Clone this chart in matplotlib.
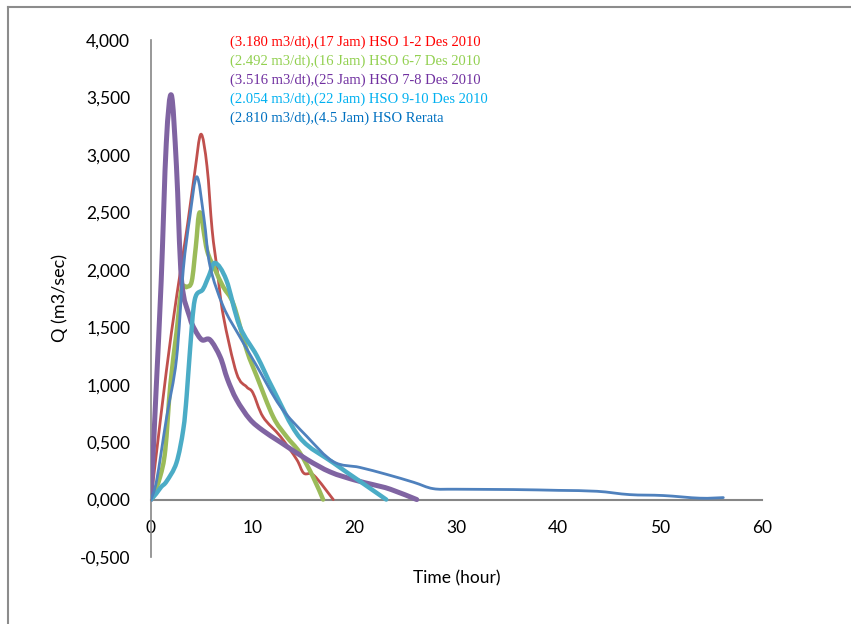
import numpy as np
import matplotlib
matplotlib.use("Agg")
import matplotlib.pyplot as plt
from matplotlib.path import Path
from matplotlib.patches import PathPatch
from matplotlib.lines import Line2D

# ---- data ----
red_x = [0, 1.0, 2.0, 3.0, 3.6, 4.3, 4.9, 5.5, 6.0, 6.5, 7.1, 8.4, 9.4, 10.0, 11.0, 12.7, 14.3, 15.0, 16.0, 17.9]
red_y = [0, 0.75, 1.45, 2.05, 2.40, 2.85, 3.18, 2.90, 2.35, 2.00, 1.60, 1.10, 0.98, 0.93, 0.72, 0.55, 0.35, 0.23, 0.21, 0]

green_x = [0, 0.2, 0.9, 1.4, 1.9, 2.5, 3.0, 3.5, 4.0, 4.4, 4.8, 5.5, 6.3, 7.1, 8.1, 9.4, 10.4, 12.0, 13.3, 14.6, 15.9, 16.9]
green_y = [0, 0.03, 0.20, 0.43, 1.00, 1.45, 1.83, 1.85, 1.90, 2.20, 2.50, 2.17, 2.00, 1.85, 1.70, 1.30, 1.07, 0.72, 0.55, 0.41, 0.20, 0]

purple_x = [0, 0.5, 1.0, 1.5, 2.0, 2.5, 3.0, 3.8, 4.3, 5.0, 5.8, 6.8, 7.5, 8.4, 9.7, 11.0, 12.7, 15.3, 17.6, 20.0, 21.8, 23.5, 26.1]
purple_y = [0, 0.95, 1.90, 3.10, 3.52, 2.90, 1.91, 1.59, 1.48, 1.39, 1.39, 1.24, 1.05, 0.87, 0.70, 0.60, 0.50, 0.35, 0.24, 0.17, 0.13, 0.09, 0]

cyan_x = [0, 0.5, 1.0, 1.54, 2.5, 3.17, 3.5, 3.83, 4.3, 5.1, 5.7, 6.3, 7.4, 8.7, 10.4, 12.0, 14.6, 17.9, 20.5, 23.1]
cyan_y = [0, 0.05, 0.11, 0.16, 0.32, 0.61, 0.90, 1.30, 1.74, 1.83, 1.95, 2.06, 1.91, 1.51, 1.25, 0.96, 0.54, 0.32, 0.16, 0]

blue_x = [0, 0.56, 1.54, 2.5, 3.17, 3.8, 4.5, 5.2, 5.8, 7.1, 8.7, 10.4, 12.7, 15.3, 17.9, 20.5, 23.1, 25.8, 27.7, 30.0, 35.6, 40.0, 43.8, 47.0, 50.3, 53.9, 56.2]
blue_y = [0, 0.17, 0.72, 1.22, 2.00, 2.45, 2.81, 2.45, 2.03, 1.68, 1.42, 1.16, 0.81, 0.55, 0.33, 0.28, 0.22, 0.15, 0.095, 0.09, 0.087, 0.08, 0.072, 0.043, 0.035, 0.012, 0.017]

legend_labels = [
    "(3.180 m3/dt),(17 Jam) HSO 1-2 Des 2010",
    "(2.492 m3/dt),(16 Jam) HSO 6-7 Des 2010",
    "(3.516 m3/dt),(25 Jam) HSO 7-8 Des 2010",
    "(2.054 m3/dt),(22 Jam) HSO 9-10 Des 2010",
    "(2.810 m3/dt),(4.5 Jam) HSO Rerata",
]
x_ticks = [0, 10, 20, 30, 40, 50, 60]
y_ticks = [-0.5, 0, 0.5, 1.0, 1.5, 2.0, 2.5, 3.0, 3.5, 4.0]

# ---- styles ----
line_colors = ["#C0504D", "#9BBB59", "#8064A2", "#4BACC6", "#4F81BD"]
text_colors = ["#FF0000", "#92D050", "#7030A0", "#00B0F0", "#0070C0"]
widths = [2.0, 3.2, 3.6, 3.2, 2.0]


def smooth_path(xs, ys, t=1/6.0):
    xs = np.asarray(xs, float)
    ys = np.asarray(ys, float)
    pts = np.column_stack([xs, ys])
    n = len(pts)
    verts = [pts[0]]
    codes = [Path.MOVETO]
    for i in range(n - 1):
        p0 = pts[i - 1] if i > 0 else pts[i]
        p1 = pts[i]
        p2 = pts[i + 1]
        p3 = pts[i + 2] if i + 2 < n else pts[i + 1]
        c1 = p1 + (p2 - p0) * t
        c2 = p2 - (p3 - p1) * t
        verts += [c1, c2, p2]
        codes += [Path.CURVE4] * 3
    return Path(verts, codes)


fig = plt.figure(figsize=(8.51, 6.24), dpi=100)
ax = fig.add_axes([151 / 851, 1 - 557 / 624, (762 - 151) / 851, (557 - 40) / 624])

series = [(red_x, red_y), (green_x, green_y), (purple_x, purple_y), (cyan_x, cyan_y), (blue_x, blue_y)]
for i, (xs, ys) in enumerate(series):
    p = PathPatch(smooth_path(xs, ys), facecolor="none", edgecolor=line_colors[i],
                  lw=widths[i], capstyle="round", joinstyle="round", zorder=3 + i * 0.1)
    ax.add_patch(p)

ax.set_xlim(0, 60)
ax.set_ylim(-0.5, 4.0)
ax.set_xticks(x_ticks)
ax.set_yticks(y_ticks)
ax.set_yticklabels([f"{v:.3f}".replace(".", ",") for v in y_ticks])
ax.set_xticklabels([str(v) for v in x_ticks])

for s in ["top", "right"]:
    ax.spines[s].set_visible(False)
ax.spines["bottom"].set_position(("data", 0))
ax.spines["bottom"].set_color("#868686")
ax.spines["left"].set_color("#868686")
ax.spines["bottom"].set_linewidth(1.5)
ax.spines["left"].set_linewidth(1.2)
ax.tick_params(axis="both", length=0, labelsize=12.5, colors="#000000")
ax.tick_params(axis="x", pad=15)
ax.tick_params(axis="y", pad=15)
for lab in ax.get_xticklabels() + ax.get_yticklabels():
    lab.set_fontfamily("Lato")

ax.set_xlabel("Time (hour)", fontfamily="Lato", fontsize=12.5)
ax.xaxis.set_label_coords(0.5, -0.025)
ax.set_ylabel("Q (m3/sec)", fontfamily="Lato", fontsize=13)
ax.yaxis.set_label_coords(-0.136, 0.50)

for k, (lab, col) in enumerate(zip(legend_labels, text_colors)):
    fig.text(230 / 851, 1 - (42 + k * 19) / 624, lab, color=col, fontsize=10.5,
             fontfamily="Liberation Serif", va="center", ha="left")

# outer frame lines (top and left)
fig.add_artist(Line2D([8 / 851, 1.0], [1 - 7 / 624, 1 - 7 / 624], color="#8C8C8C", lw=1.5,
                      transform=fig.transFigure))
fig.add_artist(Line2D([8 / 851, 8 / 851], [0, 1 - 7 / 624], color="#8C8C8C", lw=1.5,
                      transform=fig.transFigure))

fig.savefig("out.png", dpi=100)
